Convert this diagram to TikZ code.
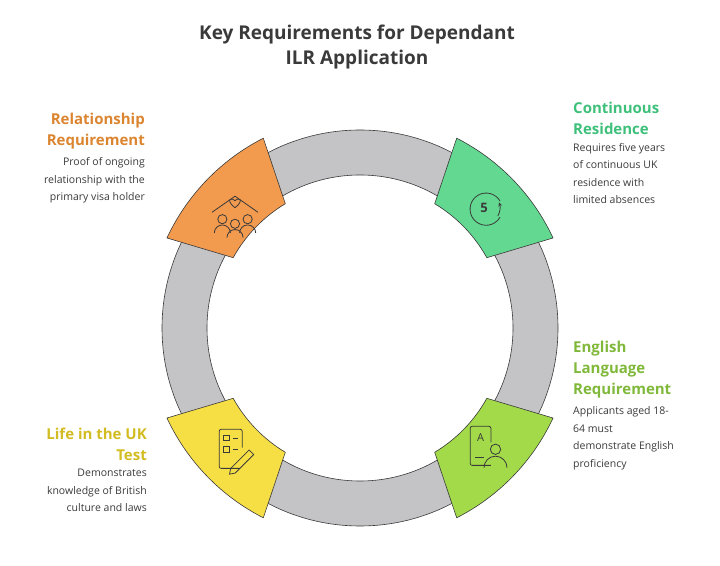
\documentclass[tikz,border=0pt]{standalone}
\usepackage{fontspec}
\setmainfont{Open Sans}
\usetikzlibrary{positioning,calc}
\definecolor{ringgray}{HTML}{C4C4C6}
\definecolor{edge}{HTML}{3A3A3A}
\definecolor{relfill}{HTML}{F29A4E}
\definecolor{resfill}{HTML}{62D890}
\definecolor{engfill}{HTML}{A2DA4A}
\definecolor{lifefill}{HTML}{F6DE45}
\definecolor{reltext}{HTML}{DC8530}
\definecolor{restext}{HTML}{3EC07A}
\definecolor{engtext}{HTML}{80B83A}
\definecolor{lifetext}{HTML}{D2BC22}
\tikzset{
  head/.style={font=\fontsize{15}{21}\selectfont\bfseries, align=#1, inner sep=0pt},
  desc/.style={font=\fontsize{10.5}{17.5}\selectfont, text=edge, align=#1, inner sep=0pt},
  block/.style={fill=#1, draw=edge, line width=0.6pt, line join=round},
  icon/.style={draw=edge, line width=0.8pt}
}
\newcommand{\ringblock}[2]{%
  \draw[block=#2] ($(360,237)+(#1+19:213)$) arc (#1+19:#1-19:213)
    -- ($(360,237)+(#1-15:145)$) arc (#1-15:#1+15:145) -- cycle;}
\begin{document}
\begin{tikzpicture}[x=1pt,y=1pt]
  \useasboundingbox (0,0) rectangle (720,565);
  % title
  \node[font=\fontsize{19}{25}\selectfont\bfseries, text=edge, align=center] (title) at (357,518)
    {Key Requirements for Dependant\\ILR Application};
  % ring
  \coordinate (centre) at (360,237);
  \draw[fill=ringgray, draw=edge, line width=0.6pt, even odd rule]
    (centre) circle (198) (centre) circle (153);
  % blocks
  \ringblock{136}{relfill}
  \ringblock{44}{resfill}
  \ringblock{-44}{engfill}
  \ringblock{-136}{lifefill}
  % icons
  \begin{scope}[icon, shift={(235,355)}, scale=1.15]
    \draw (-20,-2) -- (0,12) -- (20,-2);
    \draw (0,2) .. controls (-8,8) and (-4,12) .. (0,8) .. controls (4,12) and (8,8) .. (0,2);
    \draw (-11,-8) circle (4) (0,-12) circle (4) (11,-8) circle (4);
    \draw (-18,-20) arc (180:0:7) (-7,-24) arc (180:0:7) (4,-20) arc (180:0:7);
  \end{scope}
  \begin{scope}[icon, shift={(484,357)}, scale=1.15]
    \draw (14,6) arc (30:330:14);
    \draw[->, >=stealth] (12,-7) arc (-30:20:14);
    \node[font=\fontsize{13}{13}\selectfont\bfseries, text=edge] at (0,0) {5};
  \end{scope}
  \begin{scope}[icon, shift={(484,118)}, scale=1.15]
    \draw[rounded corners=2] (6,-16) -- (-12,-16) -- (-12,18) -- (6,18) -- (6,4);
    \node[font=\fontsize{11}{11}\selectfont, text=edge] at (-3,8) {A};
    \draw (-8,-9) -- (0,-9);
    \draw (10,-2) circle (4.5);
    \draw (0,-18) arc (180:0:10);
  \end{scope}
  \begin{scope}[icon, shift={(233,115)}, scale=1.15]
    \draw[rounded corners=2] (6,-16) -- (-12,-16) -- (-12,18) -- (8,18) -- (8,2);
    \draw (-8,8) rectangle (-3,13) (-8,-2) rectangle (-3,3);
    \draw (0,10.5) -- (4,10.5) (0,0.5) -- (4,0.5);
    \draw (-2,-16) -- (14,0) -- (18,-4) -- (2,-20) -- (-3,-21) -- cycle;
  \end{scope}
  % labels
  \node[head=right, text=reltext, anchor=north east] (relhead) at (145,452)
    {Relationship\\Requirement};
  \node[desc=right, below=8pt of relhead.south east, anchor=north east] (reldesc)
    {Proof of ongoing\\relationship with the\\primary visa holder};
  \node[head=left, text=restext, anchor=north west] (reshead) at (573,463)
    {Continuous\\Residence};
  \node[desc=left, below=8pt of reshead.south west, anchor=north west] (resdesc)
    {Requires five years\\of continuous UK\\residence with\\limited absences};
  \node[head=left, text=engtext, anchor=north west] (enghead) at (573,224)
    {English\\Language\\Requirement};
  \node[desc=left, below=8pt of enghead.south west, anchor=north west] (engdesc)
    {Applicants aged 18-\\64 must\\demonstrate English\\proficiency};
  \node[head=right, text=lifetext, anchor=north east] (lifehead) at (147,137)
    {Life in the UK\\Test};
  \node[desc=right, below=8pt of lifehead.south east, anchor=north east] (lifedesc)
    {Demonstrates\\knowledge of British\\culture and laws};
\end{tikzpicture}
\end{document}
